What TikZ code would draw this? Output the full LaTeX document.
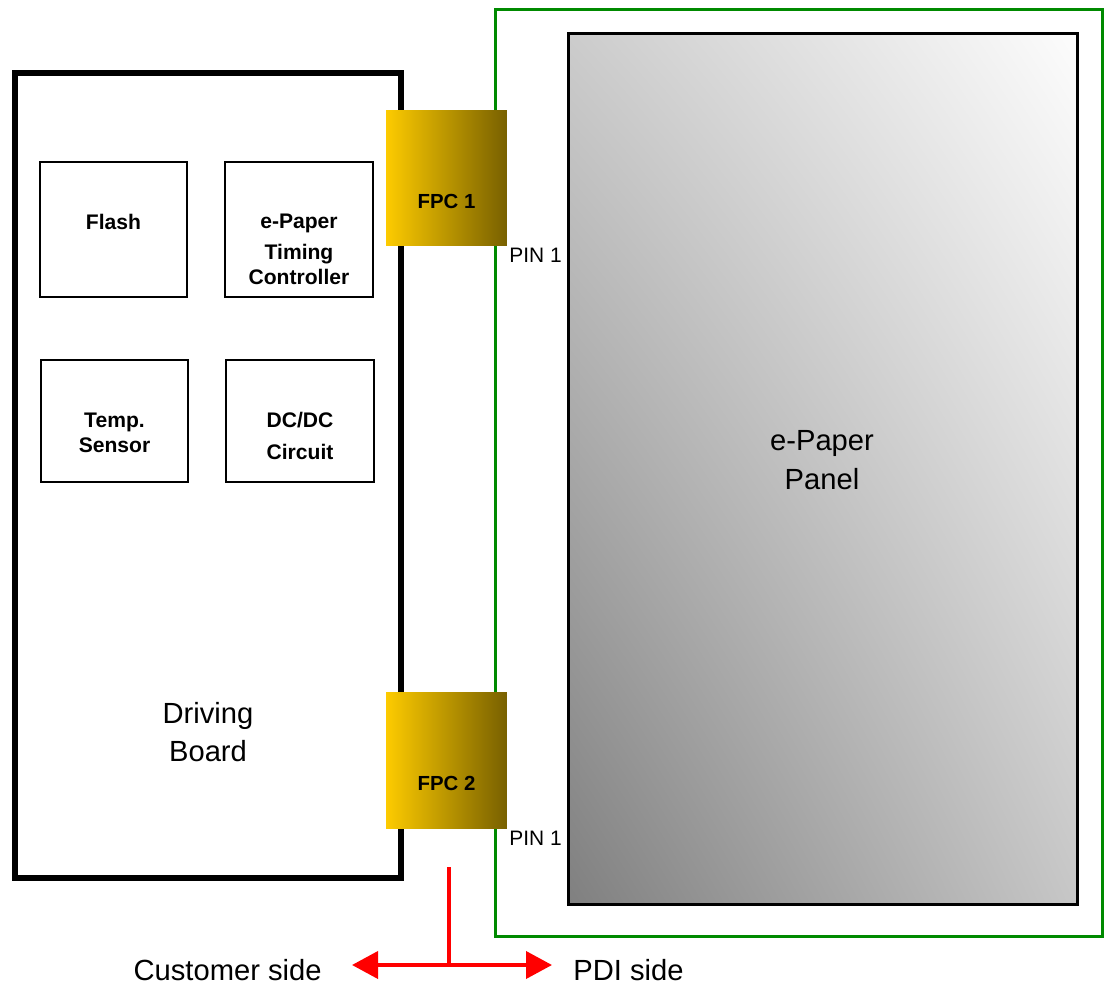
\documentclass[tikz,border=0pt]{standalone}
\usepackage{fontspec}
\setmainfont{Liberation Sans}
\usetikzlibrary{arrows.meta, shadings}

\definecolor{fpcyellow}{HTML}{FDCB00}
\definecolor{fpcbrown}{HTML}{786000}
\definecolor{framegreen}{HTML}{008A00}

\begin{document}
\begin{tikzpicture}[x=0.02cm, y=-0.02cm,
  chip/.style={draw, line width=1.1pt, fill=white, inner sep=0pt, minimum width=2.95cm},
  chiptext/.style={font=\bfseries\fontsize{12}{14}\selectfont, align=center},
  fpc/.style={left color=fpcyellow, middle color=fpcyellow!80!fpcbrown, right color=fpcbrown,
    inner sep=0pt, minimum width=2.42cm, minimum height=2.72cm},
  fpctext/.style={font=\bfseries\fontsize{11.6}{14}\selectfont},
  pintext/.style={font=\fontsize{11.9}{14}\selectfont, inner sep=1pt, anchor=north west},
  bigtext/.style={font=\fontsize{16.6}{22}\selectfont, align=center, inner sep=0pt},
  redline/.style={red, line width=2.2pt}
]
  \useasboundingbox (0,0) rectangle (1105,986);

  % 1. パネル側
  \node (frame) [draw=framegreen, line width=1.7pt, inner sep=0pt,
    minimum width=12.16cm, minimum height=18.56cm] at (799,473) {};
  \node (panel) [draw, line width=1.7pt, inner sep=0pt,
    minimum width=10.2cm, minimum height=17.44cm, shading=bilinear interpolation,
    upper left=black!20, upper right=black!1, lower left=black!50, lower right=black!22] at (823,469) {};
  \node (paneltxt) [bigtext] at (822,460) {e-Paper\\Panel};

  % 2. ドライバボード
  \node (board) [draw, line width=3.2pt, fill=white, inner sep=0pt,
    minimum width=7.72cm, minimum height=16.1cm] at (208,475.5) {};
  \node (boardtxt) [bigtext] at (208,732) {Driving\\Board};

  \node (flash) [chip, minimum height=2.7cm] at (113.5,229.5) {};
  \node (tcon) [chip, minimum height=2.7cm] at (299,229.5) {};
  \node (temp) [chip, minimum height=2.44cm] at (114.5,421) {};
  \node (dcdc) [chip, minimum height=2.44cm] at (300,421) {};
  \node (flashtxt) [chiptext] at ([yshift=0.15cm]flash.center) {Flash};
  \node (tcontxt) [chiptext] at ([yshift=-0.4cm]tcon.center) {e-Paper\\[3.5pt]Timing\\Controller};
  \node (temptxt) [chiptext] at ([yshift=-0.24cm]temp.center) {Temp.\\Sensor};
  \node (dcdctxt) [chiptext] at ([yshift=-0.3cm]dcdc.center) {DC/DC\\[4pt]Circuit};

  % 3. FPC
  \node (fpc1) [fpc] at (446.5,178) {};
  \node (fpc1txt) [fpctext] at ([yshift=-0.46cm]fpc1.center) {FPC 1};
  \node (pin1a) [pintext] at (fpc1.south east) {PIN 1};
  \node (fpc2) [fpc] at (446.5,760.5) {};
  \node (fpc2txt) [fpctext] at ([yshift=-0.46cm]fpc2.center) {FPC 2};
  \node (pin1b) [pintext] at (fpc2.south east) {PIN 1};

  % 4. 境界の矢印
  \coordinate (stem) at (449,867);
  \coordinate (split) at (449,965);
  \coordinate (custtip) at (352,965);
  \coordinate (pditip) at (552,965);
  \draw[redline] (stem) -- (split);
  \draw[redline, {Triangle[length=0.52cm, width=0.54cm]}-{Triangle[length=0.52cm, width=0.54cm]}] (custtip) -- (pditip);
  \node (cust) [bigtext, anchor=east] at (322,970) {Customer side};
  \node (pdi) [bigtext, anchor=west] at (573,970) {PDI side};
\end{tikzpicture}
\end{document}
